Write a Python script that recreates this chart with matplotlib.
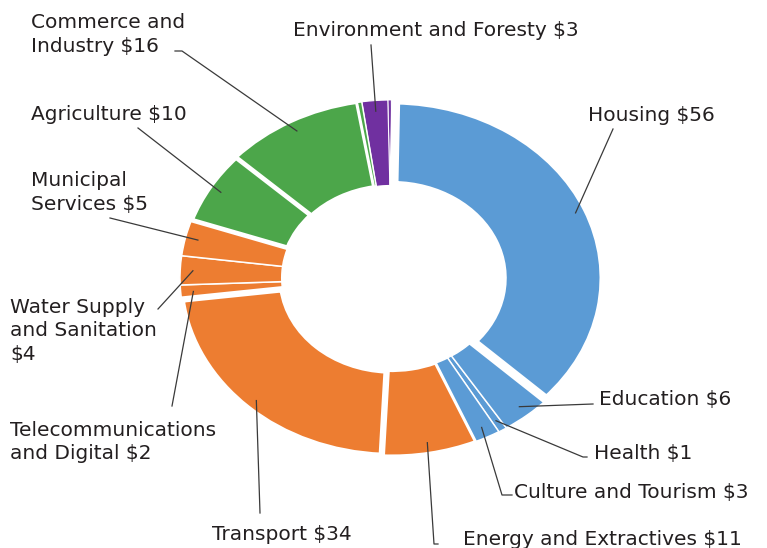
import numpy as np
import matplotlib.pyplot as plt

# sector names (line breaks as in the chart) and amounts, clockwise from 12 o'clock
sectors = ["Housing", "Education", "Health", "Culture and Tourism",
           "Energy and Extractives", "Transport",
           "Telecommunications\nand Digital", "Water Supply\nand Sanitation\n",
           "Municipal\nServices", "Agriculture", "Commerce and\nIndustry",
           "", "Environment and Foresty", "", "", ""]
amounts = [56, 6, 1, 3, 11, 34, 2, 4, 5, 10, 16, 0.6, 3, 0.4, 0.3, 0.2]
groups = ["social", "social", "social", "social",
          "infra", "infra", "infra", "infra", "infra",
          "productive", "productive", "productive",
          "environment", "environment", "environment", "environment"]

group_colors = {"social": "#5b9bd5", "infra": "#ed7d31",
                "productive": "#4ca64a", "environment": "#7030a0"}

W, H = 767, 548
CX, CY = 392, 278      # donut centre in pixels
RX, RY = 212, 178      # outer radius in pixels (chart is stretched sideways)


def px(x, y):
    return (x - CX) / RX, (CY - y) / RY


fig = plt.figure(figsize=(W / 100, H / 100), dpi=100)
ax = fig.add_axes([0, 0, 1, 1])

colors = [group_colors[g] for g in groups]
wedges, _ = ax.pie(amounts, colors=colors, startangle=89, counterclock=False,
                   radius=1,
                   wedgeprops=dict(width=0.48, edgecolor="white", linewidth=1))

# white gaps between the groups
edge_w = [6.5, 1.1, 0.8, 1.1, 2.2, 4.6, 1.1, 1.1, 1.1, 3.4, 2.2, 1.1,
          0.8, 0.6, 0.6, 0.6]
for w, lw in zip(wedges, edge_w):
    w.set_linewidth(lw)
    w.set_zorder(1 + lw)

ax.set_aspect("auto")
ax.set_xlim(px(0, 0)[0], px(W, 0)[0])
ax.set_ylim(px(0, H)[1], px(0, 0)[1])
ax.axis("off")

# label position (left, baseline of last line) and leader points in pixels
layout = {
    0: ((588, 121), [(613, 129)]),
    1: ((599, 405), [(593, 404)]),
    2: ((594, 459), [(587, 457), (583, 457)]),
    3: ((514, 498), [(512, 495), (502, 495)]),
    4: ((463, 545), [(438, 544), (434, 544)]),
    5: ((212, 540), [(260, 513)]),
    6: ((10, 459), [(172, 406)]),
    7: ((10, 360), [(158, 309)]),
    8: ((31, 210), [(110, 218)]),
    9: ((31, 120), [(138, 128)]),
    10: ((31, 52), [(175, 51), (182, 51)]),
    12: ((293, 36), [(371, 45)]),
}

for i, ((tx, ty), pts) in layout.items():
    name = sectors[i]
    sep = "" if name.endswith("\n") else " "
    label = f"{name}{sep}${amounts[i]:g}"
    x, y = px(tx, ty)
    ax.text(x, y, label, ha="left", va="baseline", fontsize=14.5,
            color="#231f20", linespacing=1.3, zorder=10)

    w = wedges[i]
    mid = np.deg2rad((w.theta1 + w.theta2) / 2)
    ex = w.center[0] + 0.94 * np.cos(mid)
    ey = w.center[1] + 0.94 * np.sin(mid)
    xs = [px(a, b)[0] for a, b in pts] + [ex]
    ys = [px(a, b)[1] for a, b in pts] + [ey]
    ax.plot(xs, ys, color="#3a3a3a", lw=0.9, zorder=10)

fig.savefig("out.png", dpi=100)
